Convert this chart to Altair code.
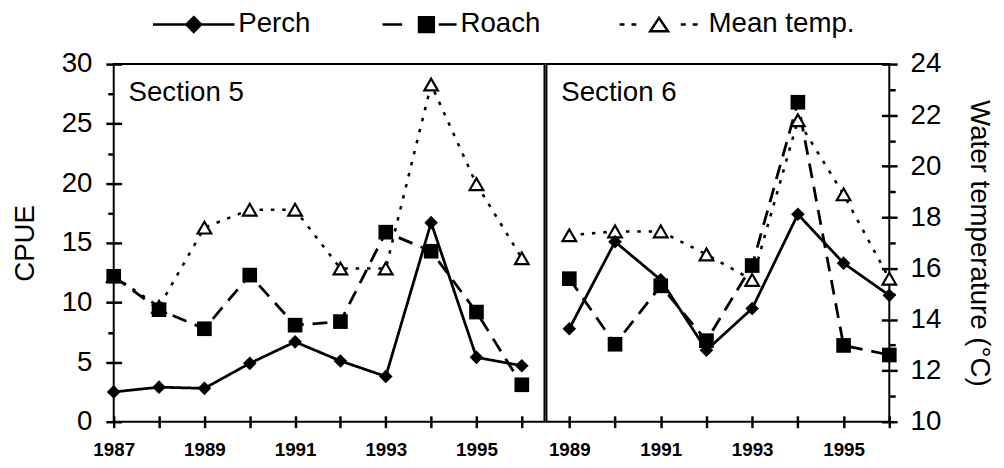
import altair as alt
import pandas as pd

# ---------------- data ----------------
legend_series = ["Perch", "Roach", "Mean temp."]

years5 = [1987, 1988, 1989, 1990, 1991, 1992, 1993, 1994, 1995, 1996]
perch5 = [2.5, 2.9, 2.8, 4.9, 6.7, 5.1, 3.8, 16.7, 5.4, 4.7]
roach5 = [12.2, 9.4, 7.8, 12.3, 8.1, 8.4, 15.9, 14.3, 9.2, 3.1]
temp5 = [15.7, 14.5, 17.6, 18.3, 18.3, 16.0, 16.0, 23.2, 19.3, 16.4]

years6 = [1989, 1990, 1991, 1992, 1993, 1994, 1995, 1996]
perch6 = [7.8, 15.1, 11.9, 6.0, 9.5, 17.4, 13.3, 10.6]
roach6 = [12.0, 6.5, 11.4, 6.8, 13.1, 26.8, 6.4, 5.6]
temp6 = [17.3, 17.45, 17.45, 16.55, 15.55, 21.8, 18.9, 15.6]

cpue_major = [0, 5, 10, 15, 20, 25, 30]
cpue_minor = [2.5, 7.5, 12.5, 17.5, 22.5, 27.5]
temp_major = [10, 12, 14, 16, 18, 20, 22, 24]
temp_minor = [11, 13, 15, 17, 19, 21, 23]

FONT = "Liberation Sans"
PLOT_H = 362
TW = 2.5  # tick weight


def panel(years, perch, roach, temp, label, xdomain, width, side):
    n = len(years)
    cpue_df = pd.DataFrame({
        "Year": years * 2,
        "CPUE": perch + roach,
        "Species": ["Perch"] * n + ["Roach"] * n,
    })
    temp_df = pd.DataFrame({"Year": years, "Temp": temp})

    xenc = alt.X(
        "Year:Q",
        scale=alt.Scale(domain=xdomain, nice=False, zero=False),
        axis=alt.Axis(values=years, format="d",
                      labelExpr="datum.value % 2 == 1 ? datum.label : ''",
                      ticks=True, tickColor="black", tickWidth=TW,
                      offset=-6, tickSize=12, domain=False, grid=False,
                      labelFont=FONT, labelFontSize=19, labelFontWeight="bold",
                      labelPadding=13, labelFlush=False, labelOverlap=False),
        title=None,
    )
    cscale = alt.Scale(domain=[0, 30], nice=False, zero=True)
    tscale = alt.Scale(domain=[10, 24], nice=False, zero=False)

    tick_kw = dict(ticks=True, tickColor="black", tickWidth=TW, domain=False, grid=False)
    if side == "left":
        c_major = alt.Axis(orient="left", values=cpue_major, offset=-8, tickSize=16,
                           labelFontSize=28, labelPadding=14,
                           title="CPUE", titleFontSize=28, titleFontWeight="normal",
                           titlePadding=22, **tick_kw)
        c_minor = alt.Axis(orient="left", values=cpue_minor, tickSize=6,
                           labels=False, title=None, **tick_kw)
        t_major = None
        t_minor = None
    else:
        c_major = None
        c_minor = None
        t_major = alt.Axis(orient="right", values=temp_major, offset=-8, tickSize=16,
                           labelFontSize=28, labelPadding=13,
                           title="Water temperature (°C)", titleFontSize=28,
                           titleFontWeight="normal", titlePadding=24, **tick_kw)
        t_minor = alt.Axis(orient="right", values=temp_minor, tickSize=6,
                           labels=False, title=None, **tick_kw)

    def yc(axis):
        if axis is None:
            return alt.Y("CPUE:Q", scale=cscale, axis=None)
        return alt.Y("CPUE:Q", scale=cscale, axis=axis)

    def yt(axis):
        if axis is None:
            return alt.Y("Temp:Q", scale=tscale, axis=None)
        return alt.Y("Temp:Q", scale=tscale, axis=axis)

    temp_line = alt.Chart(temp_df).mark_line(
        color="black", strokeWidth=2.6, strokeDash=[3.5, 8]
    ).encode(x=xenc, y=yt(t_major))

    temp_pts = alt.Chart(temp_df).mark_point(
        shape="triangle-up", size=190, filled=True, fill="white",
        stroke="black", strokeWidth=2.2, opacity=1
    ).encode(x=xenc, y=yt(t_minor))

    cpue_line = alt.Chart(cpue_df).mark_line(color="black", strokeWidth=2.8).encode(
        x=xenc, y=yc(c_major),
        strokeDash=alt.StrokeDash("Species:N",
                                  scale=alt.Scale(domain=["Perch", "Roach"],
                                                  range=[[1, 0], [15, 9]]),
                                  legend=None),
    )

    cpue_pts = alt.Chart(cpue_df).mark_point(filled=True, color="black", opacity=1).encode(
        x=xenc, y=yc(c_minor),
        shape=alt.Shape("Species:N",
                        scale=alt.Scale(domain=["Perch", "Roach"], range=["diamond", "square"]),
                        legend=None),
        size=alt.Size("Species:N",
                      scale=alt.Scale(domain=["Perch", "Roach"], range=[190, 220]),
                      legend=None),
    )

    txt = alt.Chart(pd.DataFrame({"label": [label]})).mark_text(
        align="left", baseline="alphabetic", fontSize=28, font=FONT, color="black"
    ).encode(x=alt.value(15), y=alt.value(37), text="label:N")

    return alt.layer(temp_line, cpue_line, temp_pts, cpue_pts, txt
                     ).resolve_scale(y="independent").properties(width=width, height=PLOT_H)


p5 = panel(years5, perch5, roach5, temp5, "Section 5", [1987, 1996.5], 436, "left")
p6 = panel(years6, perch6, roach6, temp6, "Section 6", [1988.5, 1996], 347, "right")

# ---------------- legend row ----------------
leg_df = pd.DataFrame({"series": legend_series})
paths = [
    "M-5.5,0H5.5M0,-1L1,0L0,1L-1,0Z",
    "M-5.93,0H-3.27M1.67,0H4.07M-1,-1H1V1H-1Z",
    "M-5.33,0H-4.67M-3.73,0H-3.07M2.93,0H3.6M4.53,0H5.2M0,-0.9L1.2,0.9L-1.2,0.9Z",
]
leg_x = alt.X("series:N",
              scale=alt.Scale(type="point", domain=legend_series, padding=0.344),
              axis=None, sort=legend_series)
leg_sym = alt.Chart(leg_df).mark_point(
    filled=True, stroke="black", strokeWidth=2.5, opacity=1, size=225
).encode(
    x=leg_x,
    shape=alt.Shape("series:N", scale=alt.Scale(domain=legend_series, range=paths), legend=None),
    fill=alt.Fill("series:N", scale=alt.Scale(domain=legend_series,
                                             range=["black", "black", "white"]), legend=None),
)
dxs = {"Perch": 45, "Roach": 34.5, "Mean temp.": 50}
leg_txt = [
    alt.Chart(leg_df).transform_filter(alt.datum.series == s).mark_text(
        align="left", baseline="middle", fontSize=28, font=FONT, color="black", dx=dxs[s]
    ).encode(x=leg_x, text="series:N")
    for s in legend_series
]
legend = alt.layer(leg_sym, *leg_txt).properties(
    width=633, height=20, view=alt.ViewBackground(strokeOpacity=0)
)

body = alt.hconcat(p5, p6, spacing=0)

chart = alt.vconcat(legend, body, spacing=30, bounds="flush").resolve_scale(
    shape="independent", fill="independent", size="independent", strokeDash="independent"
).properties(
    padding={"left": 2, "top": 0, "right": 2, "bottom": 0}
).configure_view(
    stroke="black", strokeWidth=2
).configure_axis(
    labelFont=FONT, titleFont=FONT, labelColor="black", titleColor="black"
)

chart.save("out.html", embed_options={"renderer": "svg", "actions": False})
